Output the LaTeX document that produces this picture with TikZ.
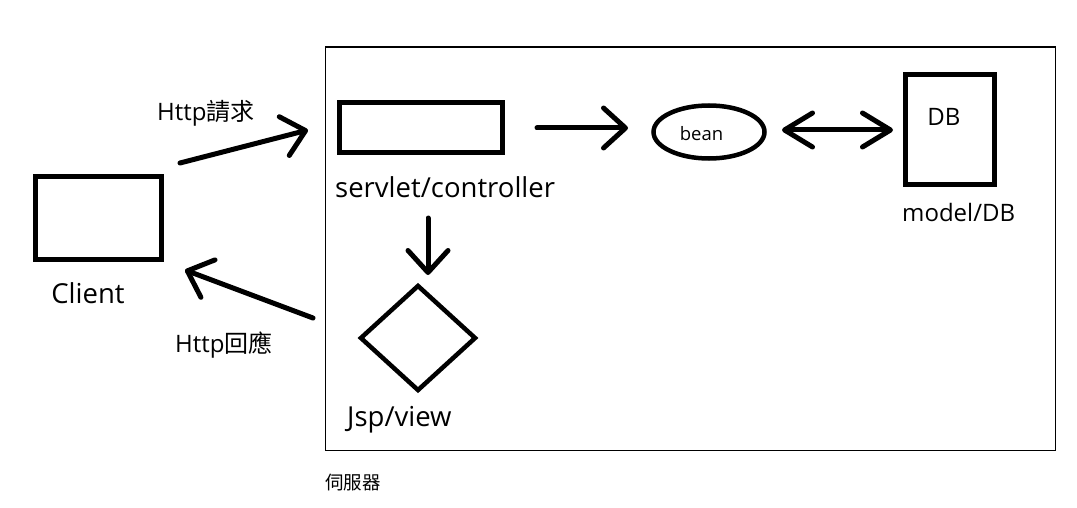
\documentclass[tikz,border=0pt]{standalone}
\usepackage{fontspec}
\setmainfont{Open Sans}
\newfontfamily\cjk{Noto Sans CJK TC}
\usetikzlibrary{arrows.meta,shapes.geometric}
\begin{document}
\begin{tikzpicture}[x=1pt,y=-1pt,
  box/.style={draw,line width=5pt,inner sep=0pt,rectangle},
  conn/.style={line width=5pt,line cap=round,line join=round,-{Straight Barb[length=22pt,width=40pt,round]}},
  biconn/.style={line width=5pt,line cap=round,line join=round,{Straight Barb[length=28pt,width=34pt,round]}-{Straight Barb[length=28pt,width=34pt,round]}},
  big/.style={inner sep=0pt,font=\fontsize{27.5}{32}\selectfont},
  model/.style={inner sep=0pt,font=\fontsize{24}{28}\selectfont},
  mid/.style={inner sep=0pt,font=\fontsize{24}{28}\selectfont},
  small/.style={inner sep=0pt,font=\fontsize{18.5}{22}\selectfont}]
\useasboundingbox (0,0) rectangle (1077,508);
\fill[white] (0,0) rectangle (1077,508);
% server frame
\node[draw,line width=1.2pt,inner sep=0pt,minimum width=730pt,minimum height=403pt,anchor=north west] (server) at (324.5,46.5) {};
\node[small,anchor=west] (serverlbl) at (325,483) {\cjk 伺服器};
% nodes
\node[box,minimum width=126pt,minimum height=83pt] (client) at (98.5,218) {};
\node[big] (clientlbl) at (88,293) {Client};
\node[box,minimum width=163pt,minimum height=50pt] (servlet) at (421,127.5) {};
\node[big,anchor=west] (servletlbl) at (335,187) {servlet/controller};
\node[draw,ellipse,line width=4.5pt,inner sep=0pt,minimum width=111pt,minimum height=53pt] (bean) at (709,132) {};
\node[small] (beanlbl) at (701.5,134) {bean};
\node[box,minimum width=89pt,minimum height=110pt] (db) at (950,129.5) {};
\node[model] (dblbl) at (944,117) {DB};
\node[model,anchor=west] (modellbl) at (902,213) {model/DB};
\node[draw,diamond,line width=4.5pt,inner sep=0pt,minimum width=116pt,minimum height=106pt] (jsp) at (418,338) {};
\node[big,anchor=west] (jsplbl) at (347,420) {Jsp/view};
% connectors
\coordinate (reqS) at (180,163);
\coordinate (reqE) at (308,130);
\coordinate (respS) at (313,318);
\coordinate (respE) at (185,270);
\coordinate (sbS) at (537,128);
\coordinate (sbE) at (628,128);
\coordinate (bdS) at (782,130);
\coordinate (bdE) at (893,130);
\coordinate (dnS) at (428,218);
\coordinate (dnE) at (428,275);
\draw[conn] (reqS) -- (reqE);
\draw[conn] (respS) -- (respE);
\draw[conn] (sbS) -- (sbE);
\draw[biconn] (bdS) -- (bdE);
\draw[conn] (dnS) -- (dnE);
\node[mid,anchor=west] (reqlbl) at (157,113) {Http{\cjk 請求}};
\node[mid,anchor=west] (resplbl) at (175,345) {Http{\cjk 回應}};
\end{tikzpicture}
\end{document}
